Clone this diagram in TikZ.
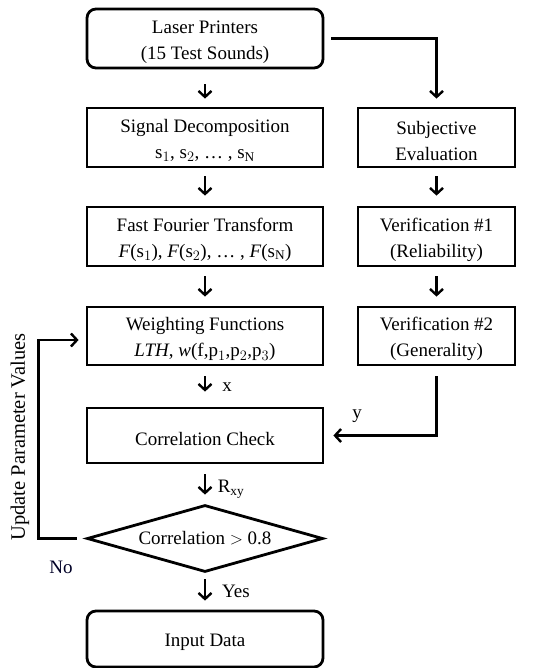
\documentclass[tikz,border=0pt]{standalone}
\usepackage{fontspec}
\setmainfont{Liberation Serif}
\usetikzlibrary{arrows.meta,shapes.geometric}
\newcommand\mytstrut{\rule{0pt}{19.5pt}}
\begin{document}
\begin{tikzpicture}[x=1pt,y=-1pt,
  every node/.style={font=\fontsize{19}{26}\selectfont},
  box/.style={draw,line width=2.8pt,inner sep=0pt,minimum width=236pt,minimum height=59pt,align=center},
  sbox/.style={box,minimum width=157pt},
  rbox/.style={box,rounded corners=9pt},
  arr/.style={line width=2.4pt,-{Straight Barb[length=6pt,width=13pt,line width=2.4pt]}},
  lbl/.style={inner sep=0pt}]
\useasboundingbox (0,0) rectangle (551,668);
\node[rbox] (laser) at (205,38.5) {\mytstrut Laser Printers\\(15 Test Sounds)};
\node[box] (sig) at (205,137.5) {\mytstrut Signal Decomposition\\s$_1$, s$_2$, \dots\ , s$_\mathrm{N}$};
\node[sbox] (subj) at (436.5,137.5) {\mytstrut Subjective\\Evaluation};
\node[box] (fft) at (205,236.5) {\mytstrut Fast Fourier Transform\\\textit{F}(s$_1$), \textit{F}(s$_2$), \dots\ , \textit{F}(s$_\mathrm{N}$)};
\node[sbox] (ver1) at (436.5,236.5) {\mytstrut Verification \#1\\(Reliability)};
\node[box,minimum height=58pt] (wf) at (205,336) {\mytstrut Weighting Functions\\\textit{LTH}, \textit{w}(f,p$_1$,p$_2$,p$_3$)};
\node[sbox,minimum height=58pt] (ver2) at (436.5,336) {\mytstrut Verification \#2\\(Generality)};
\node[box,minimum height=55pt] (cc) at (205,435.5) {\mytstrut Correlation Check};
\node[draw,diamond,line width=2.8pt,inner sep=0pt,aspect=3.5,minimum width=236pt,minimum height=67pt] (dia) at (205,538.5) {Correlation $>$ 0.8};
\node[rbox,minimum height=56pt] (inp) at (205,639) {\mytstrut Input Data};
\draw[arr,shorten <=15pt,shorten >=8pt] (laser) -- (sig);
\draw[arr,shorten <=7pt,shorten >=8pt] (laser.east) -| (subj.north);
\draw[arr,shorten <=8pt,shorten >=10pt] (sig) -- (fft);
\draw[arr,shorten <=8pt,shorten >=10pt] (subj) -- (ver1);
\draw[arr,shorten <=9pt,shorten >=9pt] (fft) -- (wf);
\draw[arr,shorten <=9pt,shorten >=9pt] (ver1) -- (ver2);
\draw[arr,shorten <=10pt,shorten >=15pt] (wf) -- (cc);
\draw[arr,shorten <=10pt,shorten >=9pt] (ver2.south) |- (cc.east);
\draw[arr,shorten <=10pt,shorten >=9pt] (cc) -- (dia);
\draw[arr,shorten <=6pt,shorten >=9pt] (dia) -- (inp);
\draw[arr,shorten <=9pt,shorten >=7pt] (dia.west) -- ++(-47,0) |- ([yshift=-4pt]wf.west);
\node[lbl] (lx) at (227,387) {x};
\node[lbl] (ly) at (357,416) {y};
\node[lbl] (lr) at (231,489) {R$_\mathrm{xy}$};
\node[lbl] (lyes) at (236,591) {Yes};
\node[lbl,text=black!85!blue] (lno) at (61,567) {No};
\node[lbl,rotate=90,font=\fontsize{20.5}{26}\selectfont] (lupd) at (20,437) {Update Parameter Values};
\end{tikzpicture}
\end{document}
